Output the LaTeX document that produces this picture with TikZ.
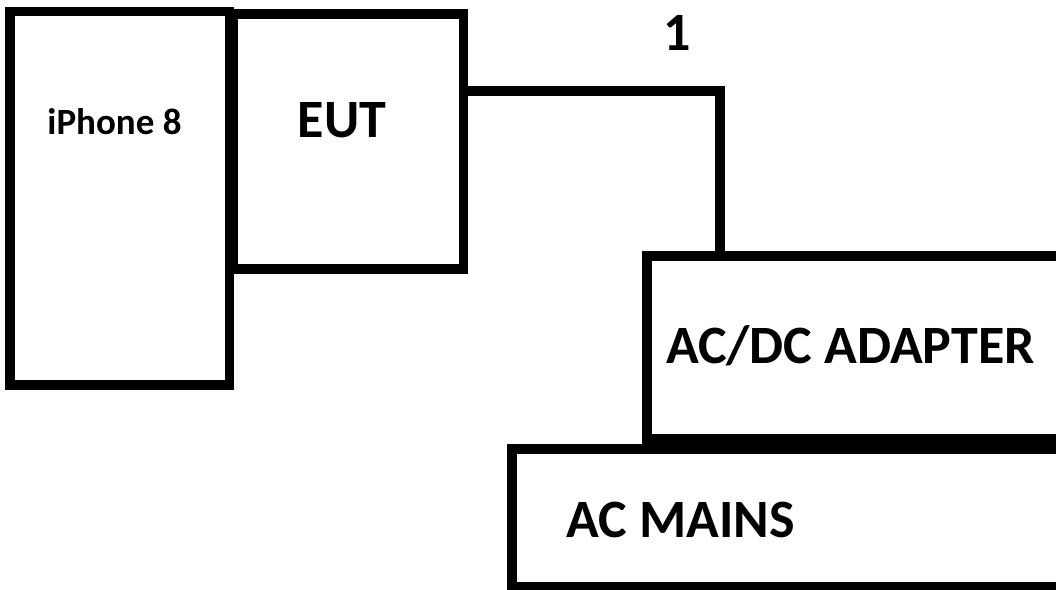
\documentclass[tikz,border=0pt]{standalone}
\usepackage{fontspec}
\setmainfont{Carlito}
\begin{document}
\begin{tikzpicture}[x=1bp,y=-1bp,
  box/.style={draw=black, line width=9.5bp, rectangle, inner sep=0pt, outer sep=0pt, fill=none},
  bigtext/.style={inner sep=0pt, outer sep=0pt, font=\fontsize{54bp}{60bp}\selectfont\bfseries, text=black},
  smalltext/.style={inner sep=0pt, outer sep=0pt, font=\fontsize{37bp}{42bp}\selectfont\bfseries, text=black},
  wire/.style={draw=black, line width=9.5bp}]
\useasboundingbox (0,0) rectangle (1056,590);
\clip (0,0) rectangle (1056,590);
\fill[white] (0,0) rectangle (1056,590);
% boxes
\node[box, minimum width=219.5bp, minimum height=373.5bp] (iphone) at (119.75,198.25) {};
\node[box, minimum width=230bp, minimum height=255bp] (eut) at (348.5,141.5) {};
\node[box, minimum width=453bp, minimum height=183bp] (adapter) at (873.5,347.5) {};
\node[box, minimum width=588bp, minimum height=138bp] (mains) at (806,518) {};
% texts
\node[smalltext, anchor=base] (tiphone) at (114.5,134.5) {iPhone 8};
\node[bigtext, anchor=base] (teut) at (342,138) {EUT};
\node[bigtext, anchor=base west] (tadapter) at (666,363) {AC/DC ADAPTER};
\node[bigtext, anchor=base west] (tmains) at (566.5,537) {AC MAINS};
% connector
\coordinate (bend) at (720,91);
\draw[wire] (eut.east |- bend) -- (bend) -- (bend |- adapter.north);
\node[bigtext, anchor=base] (one) at (677.5,51) {1};
\end{tikzpicture}
\end{document}
